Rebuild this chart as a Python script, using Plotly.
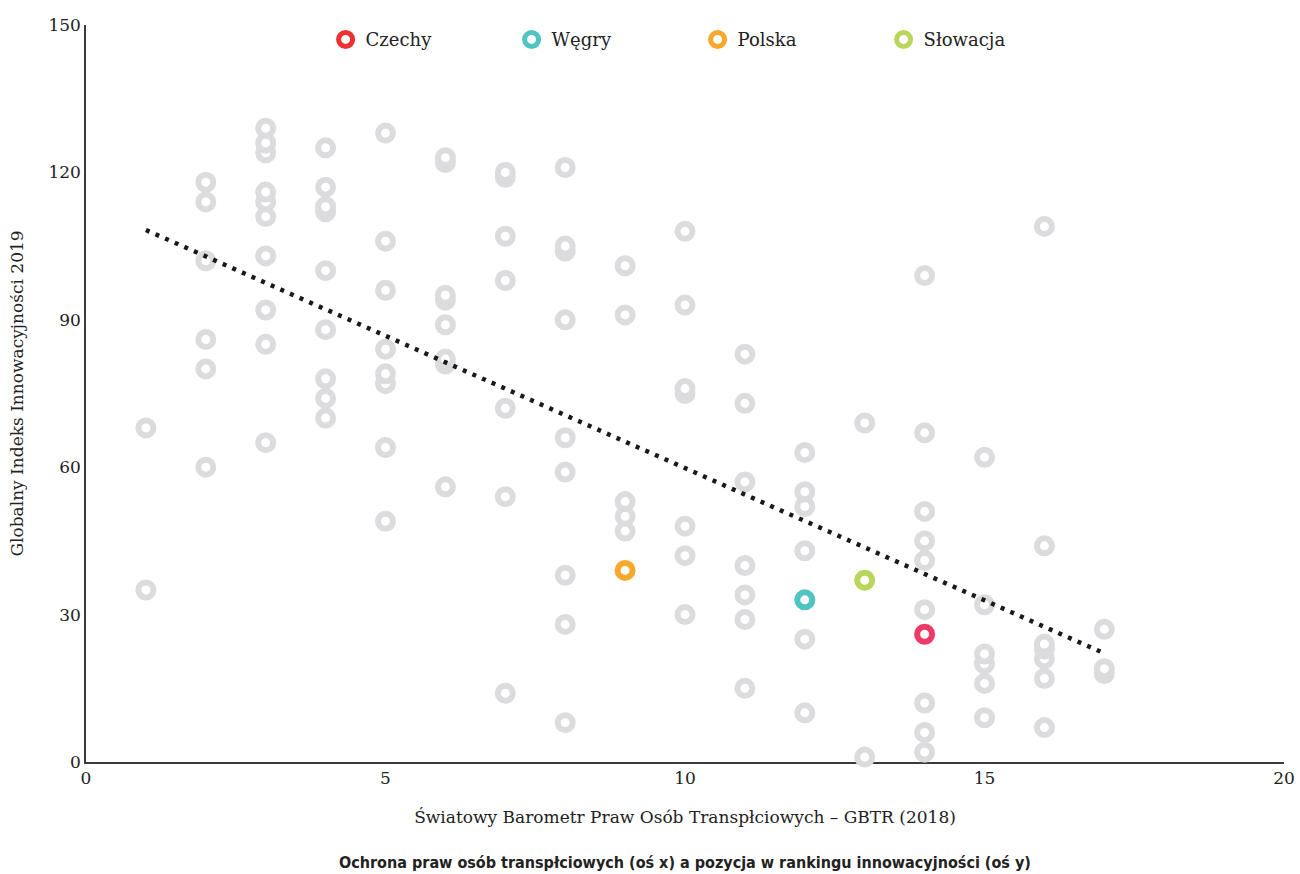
import numpy as np
import plotly.graph_objects as go

# ---- data ----
gbtr_grey = (
    [1, 1]
    + [2] * 6
    + [3] * 10
    + [4] * 9
    + [5] * 8
    + [6] * 8
    + [7] * 7
    + [8] * 9
    + [9] * 5
    + [10] * 7
    + [11] * 7
    + [12] * 6
    + [13] * 2
    + [14] * 9
    + [15] * 6
    + [16] * 7
    + [17] * 3
)
gii_grey = (
    [68, 35]
    + [118, 114, 102, 86, 80, 60]
    + [129, 126, 124, 116, 114, 111, 103, 92, 85, 65]
    + [125, 117, 113, 112, 100, 88, 78, 74, 70]
    + [128, 106, 96, 84, 79, 77, 64, 49]
    + [123, 122, 95, 94, 89, 82, 81, 56]
    + [120, 119, 107, 98, 72, 54, 14]
    + [121, 105, 104, 90, 66, 59, 38, 28, 8]
    + [101, 91, 53, 50, 47]
    + [108, 93, 76, 75, 48, 42, 30]
    + [83, 73, 57, 40, 34, 29, 15]
    + [63, 55, 52, 43, 25, 10]
    + [69, 1]
    + [99, 67, 51, 45, 41, 31, 12, 6, 2]
    + [62, 32, 22, 20, 16, 9]
    + [109, 44, 24, 23, 21, 17, 7]
    + [27, 19, 18]
)
countries = ["Czechy", "Węgry", "Polska", "Słowacja"]
gbtr_hl = [14, 12, 9, 13]
gii_hl = [26, 33, 39, 37]
legend_colors = ["#ee3030", "#4fc4c1", "#f8a92d", "#b8d65c"]
point_colors = ["#ee3a66", "#4fc4c1", "#f8a92d", "#b8d65c"]
x_ticks = [0, 5, 10, 15, 20]
y_ticks = [0, 30, 60, 90, 120, 150]

SERIF = "DejaVu Serif, Liberation Serif, serif"
GREY = "#dcdcdf"
MSIZE = 15
MLINE = 6

fig = go.Figure()

# grey points, higher values drawn last
order = np.argsort(np.array(gii_grey), kind="stable")
gx = np.array(gbtr_grey)[order]
gy = np.array(gii_grey)[order]
fig.add_trace(go.Scatter(
    x=gx, y=gy, mode="markers", showlegend=False, cliponaxis=False,
    marker=dict(symbol="circle", size=MSIZE, color="white",
                line=dict(color=GREY, width=MLINE)),
    hoverinfo="skip",
))

# linear trend (least squares over all countries)
all_x = np.array(gbtr_grey + gbtr_hl, dtype=float)
all_y = np.array(gii_grey + gii_hl, dtype=float)
slope, intercept = np.polyfit(all_x, all_y, 1)
tx = np.array([all_x.min(), all_x.max()])
fig.add_trace(go.Scatter(
    x=tx, y=slope * tx + intercept, mode="lines", showlegend=False,
    line=dict(color="#1a1a1a", width=4.5, dash="4px,6.5px"),
    hoverinfo="skip",
))

# highlighted countries
for c, xv, yv, col in zip(countries, gbtr_hl, gii_hl, point_colors):
    fig.add_trace(go.Scatter(
        x=[xv], y=[yv], mode="markers", showlegend=False, cliponaxis=False,
        marker=dict(symbol="circle", size=MSIZE, color="white",
                    line=dict(color=col, width=MLINE)),
        name=c,
    ))

# legend entries
for c, col in zip(countries, legend_colors):
    fig.add_trace(go.Scatter(
        x=[None], y=[None], mode="markers", name=c,
        marker=dict(symbol="circle", size=14, color="white",
                    line=dict(color=col, width=6.5)),
    ))

axis_common = dict(
    showline=True, linecolor="#3a3a3a", linewidth=1.5,
    showgrid=False, zeroline=False, ticks="",
    tickfont=dict(family=SERIF, size=17, color="#222222"),
    layer="below traces", automargin=False,
)

fig.update_layout(
    width=1300, height=874,
    margin=dict(l=86, r=16, t=25, b=112, autoexpand=False),
    plot_bgcolor="white", paper_bgcolor="white",
    font=dict(family=SERIF, color="#222222"),
    xaxis=dict(range=[0, 20], tickvals=x_ticks, **axis_common,
               title=dict(text="Światowy Barometr Praw Osób Transpłciowych – GBTR (2018)",
                          font=dict(family=SERIF, size=17, color="#222222"),
                          standoff=24)),
    yaxis=dict(range=[0, 150], tickvals=y_ticks, **axis_common,
               title=dict(text="Globalny Indeks Innowacyjności 2019",
                          font=dict(family=SERIF, size=17, color="#222222"),
                          standoff=20)),
    legend=dict(orientation="h", x=0.2, y=0.98, xanchor="left", yanchor="middle",
                font=dict(family=SERIF, size=18, color="#222222"),
                entrywidth=141, itemsizing="trace", bgcolor="rgba(0,0,0,0)"),
    annotations=[dict(
        text="<b>Ochrona praw osób transpłciowych (oś x) a pozycja w rankingu innowacyjności (oś y)</b>",
        xref="paper", yref="paper", x=0.5, y=-0.1357, xanchor="center", yanchor="middle",
        showarrow=False,
        font=dict(family="DejaVu Sans Condensed, Liberation Sans Narrow, Roboto, sans-serif",
                  size=16, color="#222222"),
    )],
)

fig.write_html(
    "out.html",
    config={"displayModeBar": False},
    post_script="document.body.style.margin='0';document.body.style.overflow='hidden';",
)
